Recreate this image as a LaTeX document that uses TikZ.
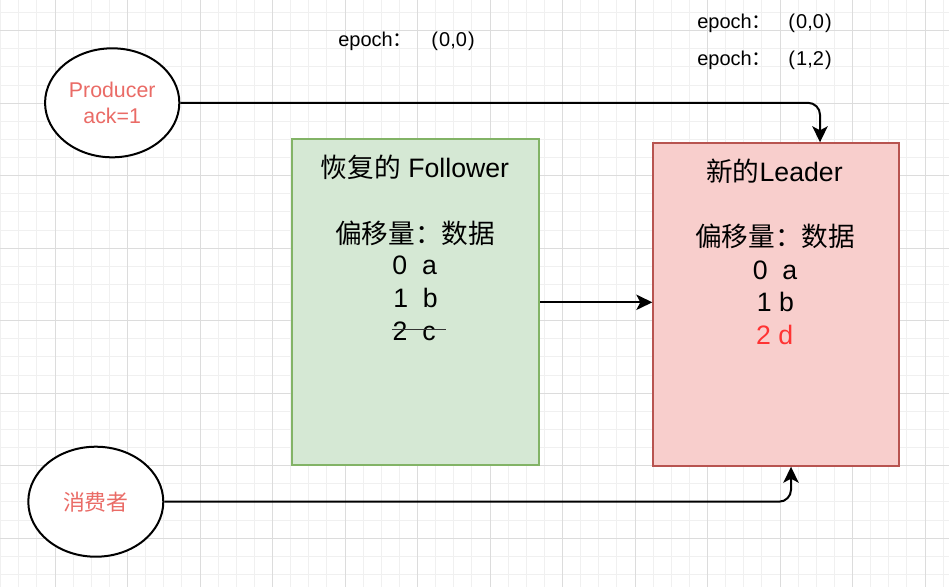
\documentclass[tikz,border=0pt]{standalone}
\usepackage{fontspec}
\setmainfont{Liberation Sans}
\newfontfamily\cjk{Noto Sans CJK SC}
\usetikzlibrary{arrows.meta,shapes.geometric}
\definecolor{gfill}{HTML}{D5E8D4}
\definecolor{gline}{HTML}{82B366}
\definecolor{rfill}{HTML}{F8CECC}
\definecolor{rline}{HTML}{B85450}
\definecolor{salmon}{HTML}{EA6B66}
\definecolor{redtxt}{HTML}{FF3333}
\definecolor{gridminor}{HTML}{F0F0F0}
\definecolor{gridmajor}{HTML}{DCDCDC}
\definecolor{strikecol}{HTML}{333333}
\newcommand{\zh}[1]{{\cjk #1}}
\begin{document}
\begin{tikzpicture}[x=0.75pt,y=-0.75pt,
  ell/.style={ellipse, draw=black, line width=1.5pt, fill=white, inner sep=0pt, align=center, text=salmon, font=\fontsize{16}{19.5}\selectfont},
  gbox/.style={rectangle, draw=gline, fill=gfill, line width=1.5pt},
  rbox/.style={rectangle, draw=rline, fill=rfill, line width=1.5pt},
  txt/.style={inner sep=0pt, font=\fontsize{20}{24}\selectfont},
  eptxt/.style={inner sep=0pt, anchor=base west, font=\fontsize{15}{18}\selectfont},
  arr/.style={line width=1.5pt, -{Stealth[length=12pt,width=11.5pt,inset=3pt]}, rounded corners=9},
  strike/.style={draw=strikecol, line width=1.1pt},
]
\fill[white] (0,0) rectangle (949,587);
\useasboundingbox (0,0) rectangle (949,587);
% grid
\foreach \i in {0,...,52} \draw[gridminor, line width=0.75pt] ({0.625+18.125*\i},0) -- ++(0,587);
\foreach \i in {0,...,31} \draw[gridminor, line width=0.75pt] (0,{12.575+18.125*\i}) -- ++(949,0);
\foreach \i in {0,...,12} \draw[gridmajor, line width=0.75pt] ({55+72.5*\i},0) -- ++(0,587);
\foreach \i in {0,...,7} \draw[gridmajor, line width=0.75pt] (0,{30.7+72.5*\i}) -- ++(949,0);

% shapes
\node[ell, minimum width=100.7pt, minimum height=81.75pt] (p) at (112.2,102.8) {Producer\\ack=1};
\node[ell, minimum width=101.25pt, minimum height=82.5pt, font=\fontsize{16.4}{19.5}\selectfont] (c) at (95.8,501.7) {\zh{消费者}};
\node[gbox, minimum width=185pt, minimum height=244.7pt] (g) at (415.7,302.3) {};
\node[rbox, minimum width=184.3pt, minimum height=241.8pt] (r) at (776.2,304.5) {};

% green box text
\node[txt] (gt) at (415,167) {\zh{恢复的} Follower};
\node[txt] (gh) at (415,233) {\zh{偏移量：数据}};
\node[txt] (g0) at (414.7,265) {0~~a};
\node[txt] (g1) at (415.5,298) {1~~b};
\node[txt] (g2) at (414.2,331) {2~~c};
\draw[strike] ([xshift=-0.5pt,yshift=1.3pt]g2.west) -- ([xshift=7.5pt,yshift=1.3pt]g2.east);

% red box text
\node[txt] (rt) at (774.5,171.7) {\zh{新的}Leader};
\node[txt] (rh) at (775,236.7) {\zh{偏移量：数据}};
\node[txt] (r0) at (775,270) {0~~a};
\node[txt] (r1) at (775.5,301.7) {1 b};
\node[txt, text=redtxt] (r2) at (774.7,335) {2 d};

% epoch labels
\node[eptxt] (e1) at (338,46.7) {epoch\zh{：}\hspace{14pt}(\kern0.8pt0,0\kern0.8pt)};
\node[eptxt] (e2) at (697,28) {epoch\zh{：}\hspace{12.5pt}(\kern0.8pt0,0\kern0.8pt)};
\node[eptxt] (e3) at (697,65) {epoch\zh{：}\hspace{12.5pt}(\kern0.8pt1,2\kern0.8pt)};

% connectors
\coordinate (pa) at (820,0);
\coordinate (ca) at (791,0);
\draw[arr] (p.east) -| (r.north -| pa);
\draw[arr] (c.east) -| (r.south -| ca);
\draw[arr] (g.east) -- (r.west |- g.east);
\end{tikzpicture}
\end{document}
